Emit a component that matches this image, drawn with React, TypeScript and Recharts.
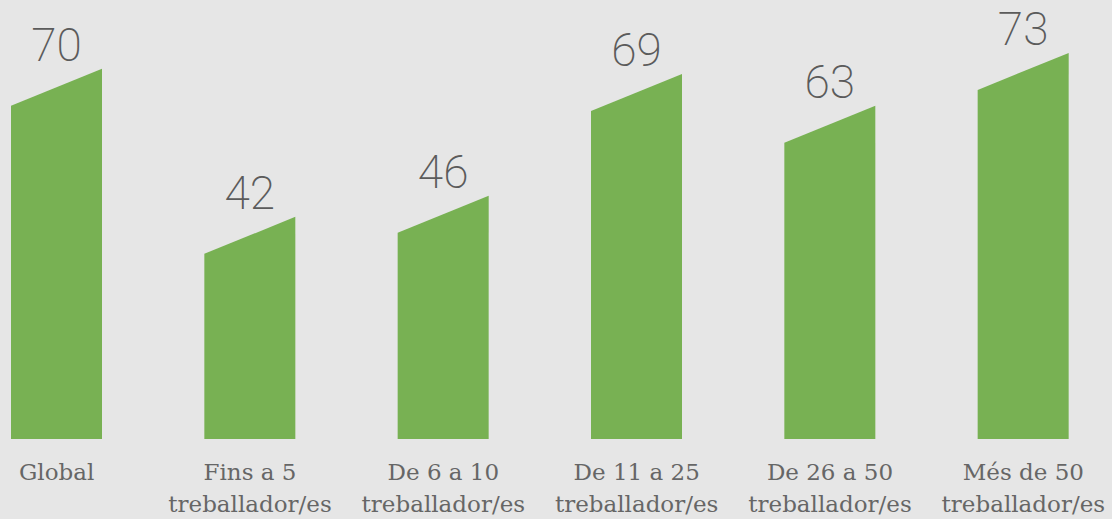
import { BarChart, Bar, XAxis, YAxis, LabelList } from 'recharts';

const categories = [
  'Global',
  'Fins a 5\ntreballador/es',
  'De 6 a 10\ntreballador/es',
  'De 11 a 25\ntreballador/es',
  'De 26 a 50\ntreballador/es',
  'Més de 50\ntreballador/es',
];
const values = [70, 42, 46, 69, 63, 73];

const data = categories.map((name, i) => ({ name, value: values[i] }));

const GREEN = '#78b153';
const TEXT = '#5b5b5b';
const SLANT = 37;

function SlantBar(props: any) {
  const { x, y, width, height } = props;
  if (!height) return null;
  const d = `M${x},${y + SLANT} L${x + width},${y} L${x + width},${y + height} L${x},${y + height} Z`;
  return <path d={d} fill={GREEN} />;
}

function ValueLabel(props: any) {
  const { x, y, width, value } = props;
  return (
    <text
      x={x + width / 2}
      y={y - 8}
      textAnchor="middle"
      fill={TEXT}
      style={{ fontFamily: 'Roboto', fontWeight: 200, fontSize: 46 }}
    >
      {value}
    </text>
  );
}

function CatTick(props: any) {
  const { x, y, payload } = props;
  const lines = String(payload.value).split('\n');
  return (
    <text
      textAnchor="middle"
      fill="#666"
      style={{ fontFamily: 'DejaVu Serif', fontSize: 23 }}
    >
      {lines.map((l, i) => (
        <tspan key={i} x={x} y={y + 41 + i * 32}>
          {l}
        </tspan>
      ))}
    </text>
  );
}

export default function App() {
  return (
    <div
      style={{
        position: 'absolute',
        left: 0,
        top: 0,
        width: 1112,
        height: 519,
        overflow: 'hidden',
        background: '#e6e6e6',
      }}
    >
      <div style={{ position: 'absolute', left: -40, top: 0 }}>
        <BarChart width={1160} height={519} data={data} margin={{ top: 0, right: 0, bottom: 0, left: 0 }}>
          <YAxis hide domain={[0, 83]} />
          <XAxis
            dataKey="name"
            height={80}
            axisLine={false}
            tickLine={false}
            tickSize={0}
            tickMargin={0}
            interval={0}
            tick={<CatTick />}
          />
          <Bar dataKey="value" barSize={91} shape={<SlantBar />} isAnimationActive={false}>
            <LabelList dataKey="value" content={<ValueLabel />} />
          </Bar>
        </BarChart>
      </div>
    </div>
  );
}
